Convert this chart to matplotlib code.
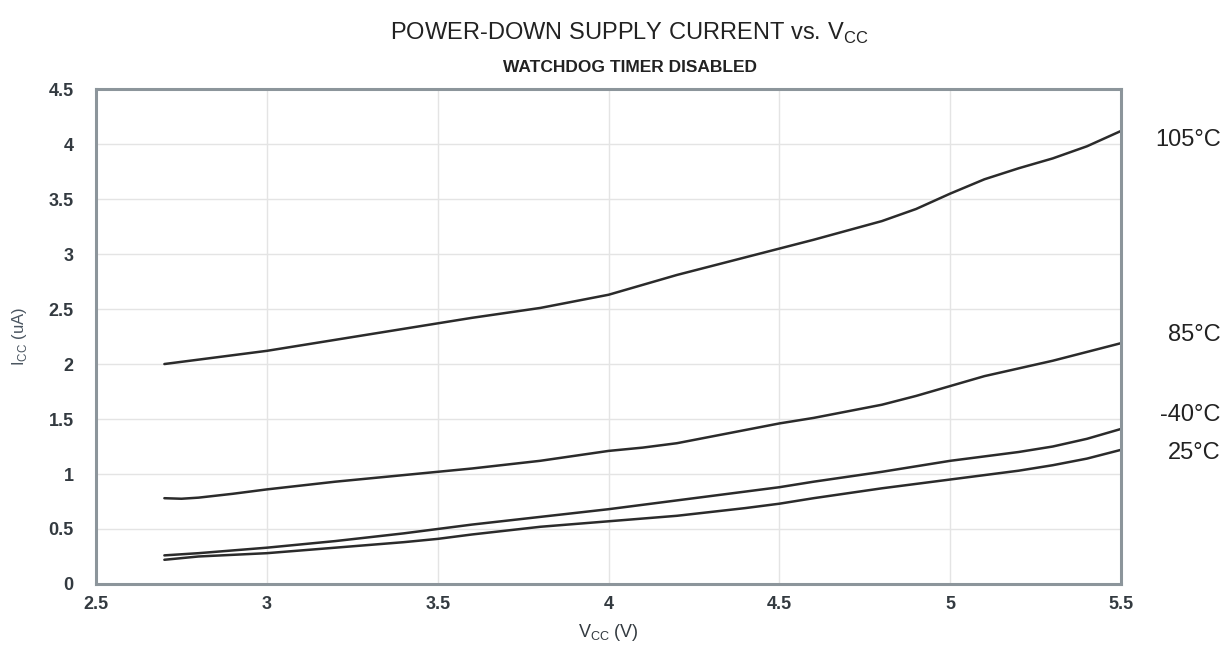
import numpy as np
import matplotlib
matplotlib.use('Agg')
import matplotlib.pyplot as plt
import matplotlib.transforms as mtransforms

plt.rcParams['font.family'] = ['Liberation Sans Narrow', 'Liberation Sans', 'DejaVu Sans']

# data
v_105 = [2.7, 2.8, 3.0, 3.2, 3.4, 3.5, 3.6, 3.8, 4.0, 4.1, 4.2, 4.4, 4.5, 4.6, 4.8, 4.9, 5.0, 5.1, 5.2, 5.3, 5.4, 5.5]
i_105 = [2.00, 2.04, 2.12, 2.22, 2.32, 2.37, 2.42, 2.51, 2.63, 2.72, 2.81, 2.97, 3.05, 3.13, 3.30, 3.41, 3.55, 3.68, 3.78, 3.87, 3.98, 4.12]

v_85 = [2.7, 2.75, 2.8, 2.9, 3.0, 3.2, 3.4, 3.5, 3.6, 3.8, 4.0, 4.1, 4.2, 4.4, 4.5, 4.6, 4.8, 4.9, 5.0, 5.1, 5.2, 5.3, 5.4, 5.5]
i_85 = [0.78, 0.775, 0.785, 0.82, 0.86, 0.93, 0.99, 1.02, 1.05, 1.12, 1.21, 1.24, 1.28, 1.40, 1.46, 1.51, 1.63, 1.71, 1.80, 1.89, 1.96, 2.03, 2.11, 2.19]

v_m40 = [2.7, 2.8, 3.0, 3.2, 3.4, 3.5, 3.6, 3.8, 4.0, 4.2, 4.4, 4.5, 4.6, 4.8, 5.0, 5.2, 5.3, 5.4, 5.5]
i_m40 = [0.26, 0.28, 0.33, 0.39, 0.46, 0.50, 0.54, 0.61, 0.68, 0.76, 0.84, 0.88, 0.93, 1.02, 1.12, 1.20, 1.25, 1.32, 1.41]

v_25 = [2.7, 2.8, 3.0, 3.2, 3.4, 3.5, 3.6, 3.8, 4.0, 4.2, 4.4, 4.5, 4.6, 4.8, 5.0, 5.2, 5.3, 5.4, 5.5]
i_25 = [0.22, 0.25, 0.28, 0.33, 0.38, 0.41, 0.45, 0.52, 0.57, 0.62, 0.69, 0.73, 0.78, 0.87, 0.95, 1.03, 1.08, 1.14, 1.22]

labels = ['105°C', '85°C', '-40°C', '25°C']
label_y = [4.04, 2.26, 1.54, 1.19]

x_ticks = [2.5, 3, 3.5, 4, 4.5, 5, 5.5]
y_ticks = [0, 0.5, 1, 1.5, 2, 2.5, 3, 3.5, 4, 4.5]

fig = plt.figure(figsize=(12.25, 6.7), dpi=100)
ax = fig.add_axes([0.0784, 0.1284, 0.8368, 0.7386])

line_color = '#2b2b2b'
for v, i in [(v_105, i_105), (v_85, i_85), (v_m40, i_m40), (v_25, i_25)]:
    ax.plot(v, i, color=line_color, lw=1.8, solid_joinstyle='round', solid_capstyle='round')

ax.set_xlim(2.5, 5.5)
ax.set_ylim(0, 4.5)
ax.set_xticks(x_ticks)
ax.set_yticks(y_ticks)
ax.set_xticklabels([f'{t:g}' for t in x_ticks], fontsize=13, fontweight='bold', color='#333a40')
ax.set_yticklabels([f'{t:g}' for t in y_ticks], fontsize=13, fontweight='bold', color='#333a40')
ax.tick_params(length=0, pad=16)
ax.tick_params(axis='x', pad=9)

ax.grid(True, color='#e4e4e4', lw=1)
ax.set_axisbelow(True)
for s in ax.spines.values():
    s.set_color('#8c959b')
    s.set_linewidth(2.2)

ax.set_xlabel('V$_{\\mathregular{CC}}$ (V)', fontsize=13, color='#333a40', labelpad=6)
ax.set_ylabel('I$_{\\mathregular{CC}}$ (uA)', fontsize=12, color='#4a5560', labelpad=14)

fig.text(0.514, 0.95, 'POWER-DOWN SUPPLY CURRENT vs. V$_{\\mathregular{CC}}$', ha='center', va='center',
         fontsize=17, color='#222222')
fig.text(0.514, 0.90, 'WATCHDOG TIMER DISABLED', ha='center', va='center',
         fontsize=12.5, fontweight='bold', color='#222222')

trans = mtransforms.blended_transform_factory(ax.transAxes, ax.transData)
for lab, y in zip(labels, label_y):
    ax.text(1.097, y, lab, transform=trans, ha='right', va='center', fontsize=17, color='#222222',
            clip_on=False)

fig.savefig('out.png', dpi=100)
